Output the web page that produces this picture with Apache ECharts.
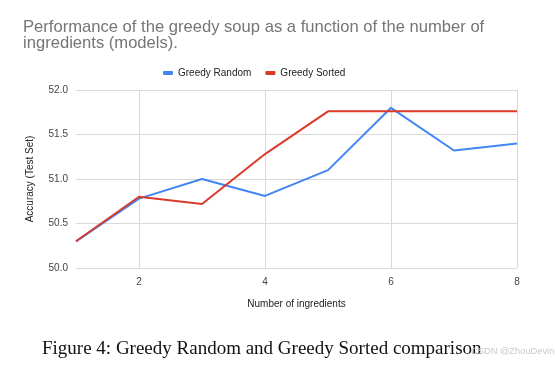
<!DOCTYPE html>
<html><head><meta charset="utf-8">
<script src="https://cdn.jsdelivr.net/npm/echarts@6/dist/echarts.min.js"></script>
<style>html,body{margin:0;padding:0;background:#fff}#c{width:555px;height:366px}</style>
</head><body><div id="c"></div>
<script>
const ingredients = ['1','2','3','4','5','6','7','8'];
const greedyRandom = [50.3, 50.78, 51.0, 50.81, 51.1, 51.8, 51.32, 51.4];
const greedySorted = [50.3, 50.8, 50.72, 51.28, 51.76, 51.76, 51.76, 51.76];
const yTicks = [50.0, 50.5, 51.0, 51.5, 52.0];

const SANS = '"Liberation Sans", Arial, sans-serif';
const chart = echarts.init(document.getElementById('c'));
const shown = (i) => i % 2 === 1;
chart.setOption({
  animation: false,
  title: {
    text: 'Performance of the greedy soup as a function of the number of\ningredients (models).',
    left: 18, top: 14,
    textStyle: {fontFamily: SANS, fontSize: 16.6, fontWeight: 'normal', color: '#757575', lineHeight: 16}
  },
  legend: {
    top: 63, left: 158,
    itemWidth: 10, itemHeight: 4, itemGap: 14,
    icon: 'roundRect',
    textStyle: {fontFamily: SANS, fontSize: 10, color: '#222'},
    data: ['Greedy Random', 'Greedy Sorted']
  },
  grid: {left: 76, right: 38, top: 90, bottom: 98, containLabel: false},
  xAxis: {
    type: 'category', data: ingredients, boundaryGap: false,
    name: 'Number of ingredients', nameLocation: 'middle', nameGap: 31,
    nameTextStyle: {fontFamily: SANS, fontSize: 10, color: '#222'},
    axisLine: {show: false}, axisTick: {show: false},
    axisLabel: {interval: (i) => shown(i), fontFamily: SANS, fontSize: 10, color: '#444', margin: 9},
    splitLine: {show: true, interval: (i) => shown(i), lineStyle: {color: '#d9d9d9', width: 1}}
  },
  yAxis: {
    type: 'value', min: yTicks[0], max: yTicks[yTicks.length-1], interval: 0.5,
    name: 'Accuracy (Test Set)', nameLocation: 'middle', nameGap: 41,
    nameTextStyle: {fontFamily: SANS, fontSize: 10, color: '#222'},
    axisLine: {show: false}, axisTick: {show: false},
    axisLabel: {formatter: (v) => v.toFixed(1), fontFamily: SANS, fontSize: 10, color: '#444', margin: 8},
    splitLine: {lineStyle: {color: '#d9d9d9', width: 1}}
  },
  series: [
    {name: 'Greedy Random', type: 'line', data: greedyRandom, symbol: 'none',
     itemStyle: {color: '#4285f4'}, lineStyle: {color: '#4285f4', width: 2}},
    {name: 'Greedy Sorted', type: 'line', data: greedySorted, symbol: 'none',
     itemStyle: {color: '#db3a2b'}, lineStyle: {color: '#db3a2b', width: 2}}
  ],
  graphic: [
    {type: 'text', left: 42, top: 340,
     style: {text: 'Figure 4: Greedy Random and Greedy Sorted comparison', font: '19px "Liberation Serif", "Times New Roman", serif', fill: '#111'}},
    {type: 'text', left: 471, top: 347,
     style: {text: 'CSDN @ZhouDevin', font: '9.3px ' + SANS, fill: '#c8c8c8'}}
  ]
});
</script></body></html>
